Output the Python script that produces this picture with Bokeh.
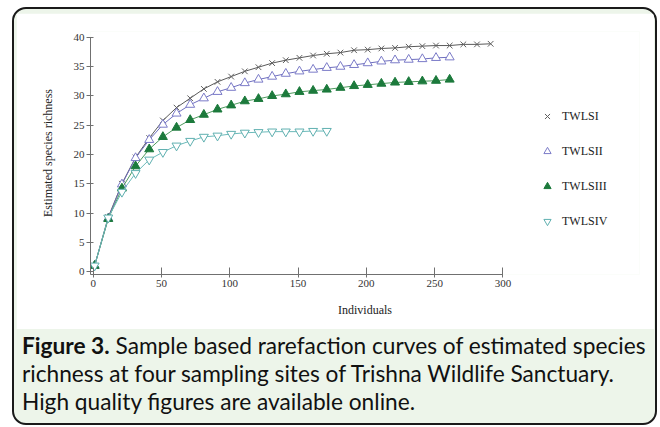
from bokeh.plotting import figure
from bokeh.models import Legend, LegendItem, Div, Column, FixedTicker
from bokeh.embed import file_html
from bokeh.resources import INLINE

# Data: individuals (x) and estimated species richness per site
x_si = [1, 11, 21, 31, 41, 51, 61, 71, 81, 91, 101, 111, 121, 131, 141, 151, 161, 171,
        181, 191, 201, 211, 221, 231, 241, 251, 261, 271, 281, 291]
y_si = [1.0, 9.3, 15.0, 19.5, 22.8, 25.8, 28.0, 29.6, 31.2, 32.4, 33.3, 34.2, 34.9, 35.6,
        36.1, 36.5, 36.9, 37.2, 37.4, 37.8, 37.9, 38.1, 38.2, 38.4, 38.5, 38.6, 38.6, 38.8,
        38.8, 38.9]
x_sii = [1, 11, 21, 31, 41, 51, 61, 71, 81, 91, 101, 111, 121, 131, 141, 151, 161, 171,
         181, 191, 201, 211, 221, 231, 241, 251, 261]
y_sii = [1.0, 9.1, 14.9, 19.4, 22.5, 25.1, 27.0, 28.5, 29.6, 30.7, 31.4, 32.2, 32.8, 33.3,
         33.8, 34.2, 34.5, 34.8, 35.0, 35.3, 35.6, 35.9, 36.1, 36.2, 36.3, 36.5, 36.6]
x_siii = x_sii
y_siii = [1.0, 9.0, 14.2, 18.0, 20.9, 23.0, 24.6, 25.9, 26.8, 27.7, 28.4, 29.1, 29.5, 30.0,
          30.3, 30.7, 30.9, 31.1, 31.4, 31.7, 31.9, 32.1, 32.3, 32.4, 32.5, 32.6, 32.8]
x_siv = [1, 11, 21, 31, 41, 51, 61, 71, 81, 91, 101, 111, 121, 131, 141, 151, 161, 171]
y_siv = [1.0, 9.2, 13.6, 16.8, 19.1, 20.4, 21.5, 22.3, 23.0, 23.2, 23.5, 23.7, 23.8, 23.9,
         23.9, 23.9, 24.0, 24.0]
labels = ["TWLSI", "TWLSII", "TWLSIII", "TWLSIV"]
x_ticks = [0, 50, 100, 150, 200, 250, 300]
y_ticks = [0, 5, 10, 15, 20, 25, 30, 35, 40]

SERIF = "Liberation Serif"

p = figure(width=638, height=316, x_range=(-2, 400), y_range=(-0.5, 41),
           output_backend="svg", toolbar_location=None,
           min_border_left=74, min_border_right=15, min_border_top=18, min_border_bottom=55,
           background_fill_color="white", border_fill_color="white",
           outline_line_color=None)
p.grid.visible = False

for ax in (p.xaxis[0], p.yaxis[0]):
    ax.axis_line_color = "#707070"
    ax.major_tick_line_color = "#707070"
    ax.minor_tick_line_color = None
    ax.major_label_text_font = SERIF
    ax.major_label_text_font_size = "11px"
    ax.major_label_text_color = "#333333"
    ax.major_label_standoff = 2
    ax.axis_label_text_font = SERIF
    ax.axis_label_text_font_style = "normal"
    ax.axis_label_text_font_size = "12px"
    ax.axis_label_text_color = "#222222"

p.xaxis.bounds = (-2, 300)
p.yaxis.bounds = (-0.5, 40)
p.xaxis.ticker = FixedTicker(ticks=x_ticks)
p.yaxis.ticker = FixedTicker(ticks=y_ticks)
p.xaxis.major_tick_in = 7
p.xaxis.major_tick_out = 3
p.yaxis.major_tick_in = 3
p.yaxis.major_tick_out = 4
p.xaxis.axis_label = "Individuals"
p.yaxis.axis_label = "Estimated species richness"
p.xaxis.axis_label_standoff = 13
p.yaxis.axis_label_standoff = 16

l1 = p.line(x_si, y_si, line_color="#5a5a5a", line_width=1)
m1 = p.scatter(x_si, y_si, marker="x", size=8, line_color="#606060", line_width=1)
l2 = p.line(x_sii, y_sii, line_color="#6f6fbf", line_width=1)
m2 = p.scatter(x_sii, y_sii, marker="triangle", size=9, line_color="#7b7bc8",
               fill_color="white", line_width=1)
l3 = p.line(x_siii, y_siii, line_color="#4e9a5e", line_width=1)
m3 = p.scatter(x_siii, y_siii, marker="triangle", size=9, line_color="#1c7a3c",
               fill_color="#1c7a3c", line_width=1)
l4 = p.line(x_siv, y_siv, line_color="#6cbaba", line_width=1)
m4 = p.scatter(x_siv, y_siv, marker="inverted_triangle", size=9, line_color="#5fb0b0",
               fill_color="white", line_width=1)

legend = Legend(items=[LegendItem(label=labels[0], renderers=[m1]),
                       LegendItem(label=labels[1], renderers=[m2]),
                       LegendItem(label=labels[2], renderers=[m3]),
                       LegendItem(label=labels[3], renderers=[m4])],
                location=(448, 43), border_line_color=None, background_fill_alpha=0,
                label_text_font=SERIF, label_text_font_size="12px", label_text_color="#222222",
                glyph_width=18, glyph_height=20, label_height=20, spacing=15,
                padding=0, margin=0, label_standoff=6)
p.add_layout(legend, "center")

caption = Div(text="<div style='margin-top:-2px; padding-left:1px'><b>Figure 3.</b> Sample "
                   "based rarefaction curves of estimated species<br>"
                   "richness at four sampling sites of Trishna Wildlife Sanctuary.<br>"
                   "High quality figures are available online.</div>",
              width=638, height=94,
              styles={"font-family": "Lato", "font-size": "22.7px", "line-height": "28px",
                      "color": "#111111", "white-space": "nowrap"})

root = Column(children=[p, caption], width=645, height=418,
              styles={"border": "2px solid #1a1a1a", "border-radius": "14px",
                      "background-color": "#edf5ea", "overflow": "hidden",
                      "box-sizing": "border-box", "padding": "4px 1px 0px 2px",
                      "margin": "7px 0px 0px 12px"})

open("out.html", "w").write(file_html(root, INLINE))
